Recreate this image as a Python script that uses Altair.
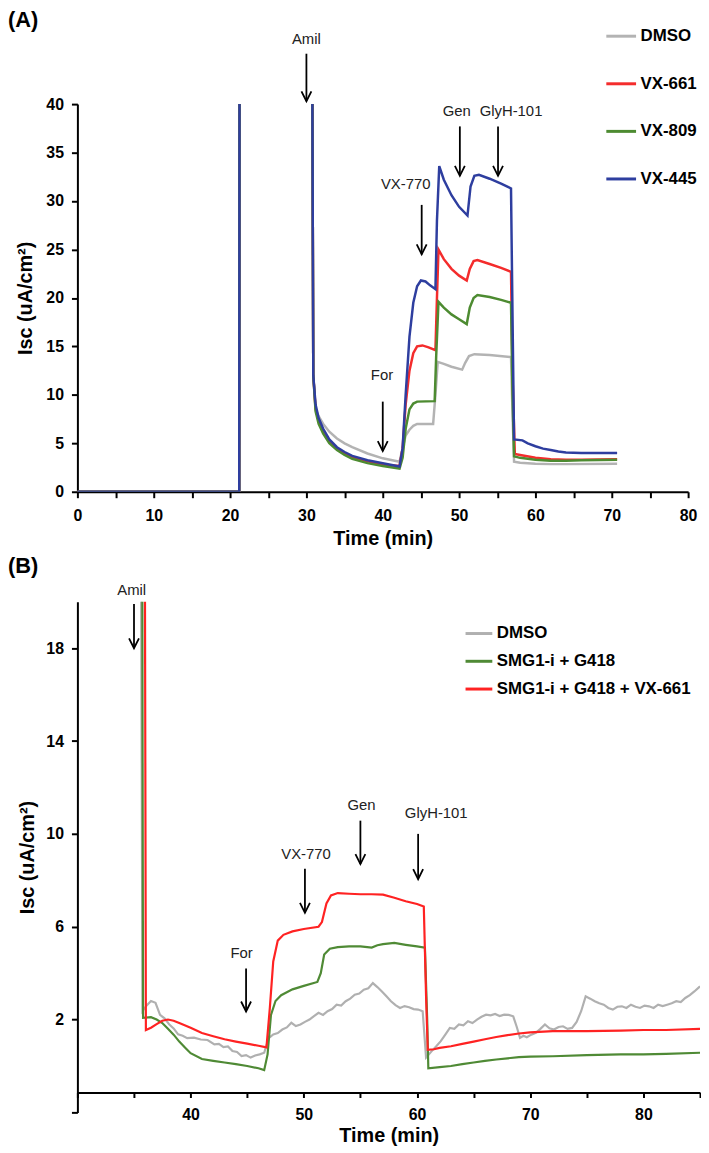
import altair as alt
import pandas as pd

FONT = "Liberation Sans"

# ---------------- Panel A ----------------
A_SERIES = ["DMSO", "VX-661", "VX-809", "VX-445"]
A_COLORS = ["#b3b3b3", "#f42c2c", "#4d8b31", "#2e3e9f"]

A_DMSO_T = [0, 21.2, 21.25, 30.7, 30.9, 31.2, 31.6, 32.2, 33, 34,
            35, 36, 38, 40, 42.2, 42.6, 43, 43.5, 44, 44.5,
            46.6, 46.9, 47.2, 48, 49, 50.4, 50.8, 51.3, 52, 54,
            56.8, 57.0, 57.2, 58, 60, 62, 64, 70.7]
A_DMSO_V = [0, 0, 60, 60, 12, 8.5, 7.8, 7.0, 6.2, 5.5,
            5.0, 4.6, 3.95, 3.45, 3.1, 4.5, 5.8, 6.4, 6.8, 7.0,
            7.0, 10, 13.4, 13.2, 12.9, 12.6, 13.3, 14.0, 14.2, 14.1,
            13.9, 8, 3.1, 3.0, 2.9, 2.85, 2.85, 2.9]

A_661_T = [0, 21.2, 21.25, 30.7, 30.9, 31.2, 31.6, 32.2, 33, 34,
           35, 36, 38, 40, 42.2, 42.6, 43, 43.5, 44, 44.5,
           45.2, 46, 46.9, 47.1, 47.3, 48, 49, 50, 51.0, 51.4,
           51.9, 52.4, 54, 55.5, 56.8, 57.0, 57.3, 58, 60, 62,
           64, 66, 70.7]
A_661_V = [0, 0, 60, 60, 12, 8.6, 7.3, 6.2, 5.2, 4.5,
           4.0, 3.6, 3.15, 2.8, 2.65, 4.5, 9, 12.5, 14.3, 15.0,
           15.1, 14.9, 14.6, 20, 25.0, 24.0, 23.0, 22.3, 21.8, 23.0,
           23.8, 23.9, 23.5, 23.1, 22.7, 12, 3.9, 3.8, 3.5, 3.35,
           3.3, 3.3, 3.35]

A_809_T = [0, 21.2, 21.25, 30.7, 30.9, 31.2, 31.6, 32.2, 33, 34,
           35, 36, 38, 40, 42.2, 42.6, 43, 43.5, 44, 44.5,
           46.8, 47.0, 47.3, 48, 49, 50, 51.0, 51.4, 51.9, 52.4,
           54, 55.5, 56.8, 57.0, 57.2, 58, 60, 62, 64, 66, 70.7]
A_809_V = [0, 0, 60, 60, 12, 8.3, 7.0, 6.0, 5.0, 4.3,
           3.8, 3.4, 2.95, 2.65, 2.4, 3.5, 6.5, 8.5, 9.1, 9.3,
           9.35, 14, 19.6, 19.0, 18.3, 17.8, 17.3, 19.0, 20.0, 20.3,
           20.1, 19.8, 19.5, 10, 3.65, 3.5, 3.3, 3.2, 3.2, 3.25, 3.3]

A_445_T = [0, 21.2, 21.25, 30.7, 30.9, 31.2, 31.6, 32.2, 33, 34,
           35, 36, 38, 40, 42.2, 42.6, 43, 43.5, 44, 44.5,
           45, 45.6, 46.2, 46.9, 47.1, 47.4, 48, 49, 50, 51.1,
           51.5, 52, 52.6, 54, 55.5, 56.8, 57.0, 57.2, 58.3, 59,
           60, 61, 62, 63, 64, 66, 68, 70.7]
A_445_V = [0, 0, 60, 60, 12, 9.0, 7.6, 6.5, 5.4, 4.6,
           4.1, 3.7, 3.25, 2.95, 2.6, 4.5, 10, 16, 19.5, 21.2,
           21.8, 21.7, 21.3, 20.9, 28, 33.6, 32.2, 30.6, 29.4, 28.5,
           31.5, 32.6, 32.7, 32.3, 31.8, 31.3, 18, 5.4, 5.3, 5.0,
           4.7, 4.45, 4.3, 4.15, 4.05, 4.0, 4.0, 4.0]

A_ANN_LABELS = ["Amil", "For", "VX-770", "Gen", "GlyH-101"]
A_ANN_LABEL_X = [30, 39.9, 43.0, 49.7, 56.8]
A_ANN_LABEL_Y = [46.75, 12.0, 31.8, 39.3, 39.3]
A_ARROW_X = [30, 40, 45.1, 50.1, 55.1]
A_ARROW_TOP = [45.2, 9.3, 29.6, 37.7, 37.7]
A_ARROW_TIP = [40.3, 4.2, 24.5, 32.6, 32.6]

# ---------------- Panel B ----------------
B_SERIES = ["DMSO", "SMG1-i + G418", "SMG1-i + G418 + VX-661"]
B_COLORS = ["#b0b0b0", "#4f8a35", "#ff2222"]

B_DMSO_T = [35.6, 35.75, 36.1, 36.5, 36.9, 37.3, 37.7, 38.1, 38.5, 38.9,
            39.3, 39.7, 40.3, 40.9, 41.5, 42.1, 42.5, 42.9, 43.3, 43.7,
            44.1, 44.5, 44.9, 45.3, 45.7, 46.1, 46.5, 46.9, 47.3, 47.7,
            48.1, 48.5, 48.9, 49.3, 49.7, 50.1, 50.5, 50.9, 51.3, 51.7,
            52.1, 52.5, 52.9, 53.3, 53.7, 54.1, 54.5, 54.9, 55.3, 55.7,
            56.1, 56.5, 56.9, 57.3, 57.7, 58.1, 58.5, 58.9, 59.3, 59.7,
            60.1, 60.5, 60.8, 61.3, 61.7, 62.1, 62.5, 62.9, 63.3, 63.7,
            64.1, 64.5, 64.9, 65.3, 65.7, 66.1, 66.5, 66.9, 67.3, 67.7,
            68.1, 68.5, 68.8, 69.1, 69.4, 69.7, 70.1, 70.5, 70.9, 71.3,
            71.7, 72.1, 72.5, 72.9, 73.3, 73.7, 74.1, 74.5, 74.9, 75.3,
            75.7, 76.1, 76.5, 76.9, 77.3, 77.7, 78.1, 78.5, 78.9, 79.3,
            79.7, 80.1, 80.5, 80.9, 81.3, 81.7, 82.1, 82.5, 82.9, 83.3,
            83.7, 84.1, 84.5, 85.0]
B_DMSO_V = [25, 2.36, 2.6, 2.8, 2.72, 2.2, 2.05, 1.8, 1.62, 1.36,
            1.3, 1.2, 1.22, 1.14, 1.12, 0.93, 0.95, 0.81, 0.84, 0.64,
            0.6, 0.43, 0.47, 0.36, 0.45, 0.5, 0.57, 1.2, 1.36, 1.42,
            1.57, 1.66, 1.86, 1.72, 1.79, 1.9, 2.0, 2.15, 2.29, 2.2,
            2.36, 2.45, 2.64, 2.6, 2.79, 2.9, 3.07, 3.12, 3.29, 3.35,
            3.57, 3.4, 3.21, 3.0, 2.79, 2.62, 2.5, 2.58, 2.53, 2.45,
            2.43, 2.36, 0.36, 0.64, 0.85, 1.07, 1.35, 1.64, 1.6, 1.79,
            1.75, 1.93, 1.85, 2.0, 2.12, 2.21, 2.18, 2.24, 2.15, 2.21,
            2.2, 2.14, 1.7, 1.21, 1.3, 1.24, 1.35, 1.43, 1.6, 1.79,
            1.62, 1.57, 1.68, 1.71, 1.6, 1.64, 1.9, 2.36, 3.0, 2.9,
            2.79, 2.7, 2.64, 2.5, 2.43, 2.55, 2.57, 2.5, 2.64, 2.55,
            2.5, 2.6, 2.57, 2.5, 2.64, 2.58, 2.64, 2.7, 2.79, 2.75,
            2.93, 3.05, 3.21, 3.43]

B_G418_T = [35.72, 35.8, 36.5, 37.0, 37.5, 38.0, 38.5, 39.0, 39.5, 40.0,
            41.0, 42.0, 43.0, 44.0, 45.0, 46.0, 46.5, 46.8, 47.1, 47.5,
            48.0, 49.0, 50.0, 51.2, 51.5, 51.8, 52.3, 53.0, 54.0, 55.0,
            56.0, 56.5, 57.0, 58.0, 59.0, 60.0, 60.7, 60.9, 61.0, 62.0,
            63.0, 64.0, 65.0, 66.0, 67.0, 68.0, 69.0, 70.0, 72.0, 75.0,
            78.0, 80.0, 82.0, 85.0]
B_G418_V = [25, 2.07, 2.1, 2.0, 1.85, 1.6, 1.35, 1.05, 0.8, 0.55,
            0.3, 0.22, 0.15, 0.08, 0.0, -0.1, -0.18, 0.5, 2.2, 2.8,
            3.05, 3.3, 3.45, 3.62, 4.0, 4.8, 5.05, 5.12, 5.15, 5.15,
            5.1, 5.2, 5.25, 5.3, 5.22, 5.15, 5.1, 2.0, -0.1, -0.05,
            0.0, 0.08, 0.15, 0.22, 0.28, 0.33, 0.38, 0.4, 0.42, 0.47,
            0.5, 0.5, 0.52, 0.57]

B_661_T = [35.95, 36.05, 36.5, 37.0, 37.5, 38.0, 38.5, 39.0, 40.0, 41.0,
           42.0, 43.0, 44.0, 45.0, 46.0, 46.7, 47.0, 47.3, 47.7, 48.2,
           49.0, 50.0, 51.3, 51.6, 52.0, 52.4, 53.0, 54.0, 55.0, 56.0,
           57.0, 58.0, 59.0, 60.0, 60.6, 60.8, 60.95, 61.5, 62.0, 63.0,
           64.0, 65.0, 66.0, 67.0, 68.0, 69.0, 70.0, 72.0, 75.0, 78.0,
           80.0, 82.0, 85.0]
B_661_V = [25, 1.55, 1.65, 1.8, 1.95, 2.0, 1.95, 1.85, 1.65, 1.42,
           1.28, 1.15, 1.05, 0.96, 0.87, 0.8, 2.5, 4.5, 5.4, 5.65,
           5.8, 5.9, 6.0, 6.2, 7.0, 7.35, 7.45, 7.42, 7.4, 7.4,
           7.38, 7.25, 7.1, 6.98, 6.87, 3.0, 0.7, 0.72, 0.78, 0.85,
           0.95, 1.05, 1.15, 1.25, 1.33, 1.4, 1.45, 1.5, 1.5, 1.52,
           1.55, 1.55, 1.6]

B_ANN_LABELS = ["Amil", "For", "VX-770", "Gen", "GlyH-101"]
B_ANN_LABEL_X = [34.8, 44.5, 50.2, 55.1, 61.7]
B_ANN_LABEL_Y = [20.5, 4.86, 9.14, 11.25, 10.9]
B_ARROW_X = [35.0, 44.9, 50.1, 55.0, 60.1]
B_ARROW_TOP = [19.9, 4.2, 8.5, 10.57, 10.0]
B_ARROW_TIP = [18.0, 2.35, 6.6, 8.7, 8.05]


def series_frame(names, times, values):
    rows = []
    for name, ts, vs in zip(names, times, values):
        assert len(ts) == len(vs), name
        for k, (t, v) in enumerate(zip(ts, vs)):
            rows.append({"series": name, "t": t, "v": v, "k": k})
    return pd.DataFrame(rows)


def make_axis(**kw):
    base = dict(grid=False, domainColor="black", domainWidth=2, tickColor="black",
                tickWidth=2, labelColor="black", labelFont=FONT, labelFontSize=16,
                labelFontWeight="bold", titleColor="black", titleFont=FONT,
                titleFontSize=20, titleFontWeight="bold", labelFlush=False,
                labelOverlap=False)
    base.update(kw)
    return alt.Axis(**base)


def panel(df, series, colors, xdom, ydom, xaxis, yaxis, legend, width, height,
          line_w, ann, tag, tag_x, tag_y):
    xs = alt.Scale(domain=xdom, nice=False, zero=False)
    ys = alt.Scale(domain=ydom, nice=False, zero=False)
    color = alt.Color("series:N", scale=alt.Scale(domain=series, range=colors),
                      legend=legend)
    layers = []
    for s in series:
        layers.append(
            alt.Chart(df).transform_filter(alt.datum.series == s)
            .mark_line(clip=True, strokeWidth=line_w)
            .encode(x=alt.X("t:Q", scale=xs, axis=xaxis),
                    y=alt.Y("v:Q", scale=ys, axis=yaxis),
                    color=color, order="k:Q")
        )
    base = alt.Chart(ann)
    layers.append(
        base.mark_rule(color="black", strokeWidth=1.8).encode(
            x=alt.X("ax:Q", scale=xs, axis=xaxis),
            y=alt.Y("atop:Q", scale=ys, axis=yaxis), y2="atip:Q")
    )
    layers.append(
        base.mark_point(shape="M-0.5,-1L0,0L0.5,-1", filled=False, color="black",
                        strokeWidth=1.8, size=400, opacity=1).encode(
            x=alt.X("ax:Q", scale=xs, axis=xaxis),
            y=alt.Y("atip:Q", scale=ys, axis=yaxis))
    )
    layers.append(
        base.mark_text(font=FONT, fontSize=15, color="#222222").encode(
            x=alt.X("lx:Q", scale=xs, axis=xaxis),
            y=alt.Y("ly:Q", scale=ys, axis=yaxis), text="label:N")
    )
    layers.append(
        alt.Chart(pd.DataFrame({"tag": [tag]})).mark_text(
            font=FONT, fontSize=22, fontWeight="bold", align="left",
            baseline="top", color="black").encode(
            x=alt.value(tag_x), y=alt.value(tag_y), text="tag:N")
    )
    return alt.layer(*layers).properties(width=width, height=height)


dfA = series_frame(A_SERIES, [A_DMSO_T, A_661_T, A_809_T, A_445_T],
                   [A_DMSO_V, A_661_V, A_809_V, A_445_V])
annA = pd.DataFrame({"label": A_ANN_LABELS, "lx": A_ANN_LABEL_X, "ly": A_ANN_LABEL_Y,
                     "ax": A_ARROW_X, "atop": A_ARROW_TOP, "atip": A_ARROW_TIP})
dfB = series_frame(B_SERIES, [B_DMSO_T, B_G418_T, B_661_T],
                   [B_DMSO_V, B_G418_V, B_661_V])
annB = pd.DataFrame({"label": B_ANN_LABELS, "lx": B_ANN_LABEL_X, "ly": B_ANN_LABEL_Y,
                     "ax": B_ARROW_X, "atop": B_ARROW_TOP, "atip": B_ARROW_TIP})

legA = alt.Legend(orient="none", legendX=532, legendY=-85, direction="vertical",
                  title=None, symbolType="stroke", symbolSize=900,
                  symbolStrokeWidth=3, labelFont=FONT, labelFontSize=17,
                  labelFontWeight="bold", labelColor="black", rowPadding=23,
                  labelOffset=3, padding=0, labelLimit=400)
legB = alt.Legend(orient="none", legendX=390, legendY=17, direction="vertical",
                  title=None, symbolType="stroke", symbolSize=729,
                  symbolStrokeWidth=3, labelFont=FONT, labelFontSize=17,
                  labelFontWeight="bold", labelColor="black", rowPadding=5,
                  labelOffset=3, padding=0, labelLimit=400)

xA = make_axis(values=list(range(0, 81, 5)),
               labelExpr="datum.value % 10 === 0 ? datum.label : ''",
               title="Time (min)", tickSize=6, labelPadding=10, titlePadding=5)
yA = make_axis(values=list(range(0, 41, 5)), title="Isc (uA/cm²)", tickSize=6,
               labelPadding=8, titlePadding=10)
xB = make_axis(values=list(range(30, 86, 5)),
               labelExpr="datum.value % 10 === 0 && datum.value >= 40 ? datum.label : ''",
               title="Time (min)", tickSize=5, labelPadding=9, titlePadding=3,
               offset=-20)
yB = make_axis(values=[-2, 2, 6, 10, 14, 18],
               labelExpr="datum.value < 0 ? '' : datum.label",
               title="Isc (uA/cm²)", tickSize=6, labelPadding=8, titlePadding=8)

chartA = panel(dfA, A_SERIES, A_COLORS, [0, 80], [0, 40], xA, yA, legA, 616, 391,
               2.5, annA, "(A)", -70, -95)
chartB = panel(dfB, B_SERIES, B_COLORS, [30, 85], [-2, 20], xB, yB, legB, 628, 515,
               2.2, annB, "(B)", -70, -46)

chart = alt.vconcat(
    chartA, chartB, spacing=111, bounds="flush",
    padding={"top": -4, "left": 0, "right": 0, "bottom": 0},
).resolve_scale(
    x="independent", y="independent", color="independent"
).resolve_legend(color="independent").configure_view(stroke=None)

chart.save("out.html", embed_options={"renderer": "svg", "actions": False})
